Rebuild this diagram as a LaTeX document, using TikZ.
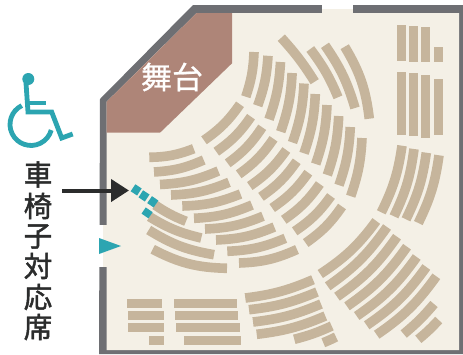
\documentclass[tikz,border=0pt]{standalone}
\usepackage{fontspec}
\newfontfamily\jpfont{Noto Sans CJK JP}[FakeBold=0.7]
\newfontfamily\jpmedium{Noto Sans CJK JP}[FakeBold=1.6]
\usetikzlibrary{arrows.meta}
\definecolor{wallc}{HTML}{6E6F73}
\definecolor{floorc}{HTML}{F4F0E6}
\definecolor{seatc}{HTML}{C6B59C}
\definecolor{stagec}{HTML}{AE8578}
\definecolor{tealc}{HTML}{2CA5B1}
\definecolor{inkc}{HTML}{2B2C2C}
\tikzset{
  seatline/.style={draw=seatc,line width=9.6pt,line cap=butt},
  seatfill/.style={fill=seatc,draw=none},
  tealline/.style={draw=tealc,line width=4.8pt,line cap=butt,line join=miter},
  tealsq/.style={draw=tealc,line width=8.4pt,line cap=butt},
  vlabel/.style={font=\jpmedium\fontsize{28.5}{28.5}\selectfont,text=inkc,inner sep=0pt},
}
\newcommand\seatR[5]{\draw[seatline] (#1,#2) to[bend right=#5] (#3,#4);}
\newcommand\seatL[5]{\draw[seatline] (#1,#2) to[bend left=#5] (#3,#4);}
\newcommand\blk[4]{\fill[seatfill] (#1,#3) rectangle (#2,#4);}
\begin{document}
\begin{tikzpicture}[x=1pt,y=-1pt]
\useasboundingbox (0,0) rectangle (463,354);
\clip (0,0) rectangle (463,354);
\fill[white] (0,0) rectangle (463,354);
% walls and floor
\fill[wallc] (100,99) -- (193,5) -- (463,5) -- (463,354) -- (99,354) -- cycle;
\fill[floorc] (106.7,101.7) -- (196.7,13) -- (459,13) -- (459,350) -- (106.5,350) -- cycle;
\fill[white] (322,4) rectangle (353,8.5);
\fill[floorc] (322,8.5) rectangle (353,13.5);
\fill[white] (98,225) rectangle (103,266.5);
\fill[floorc] (103,225) rectangle (107,266.5);
% stage
\fill[stagec] (106.7,101.7) -- (196.7,13) -- (232,13) -- (232,63.3) -- (160,132.7) -- (106.7,132.7) -- cycle;
\node[font=\jpfont\fontsize{31}{31}\selectfont,text=white,inner sep=0pt] (stage) at (172,77) {舞台};
% fan A
\seatR{149.3}{157.3}{193.7}{148.7}{10}
\seatR{154}{172}{203.7}{160}{10}
\seatR{160}{184.5}{218.3}{171}{10}
\seatR{171}{195}{229}{182.3}{10}
\seatR{182.3}{206}{240.5}{194}{10}
\seatR{194}{218.3}{252}{205}{10}
\seatR{205}{229}{263}{216.2}{10}
\seatR{216}{240}{274.3}{227}{10}
\seatR{227.3}{251.3}{285.3}{238.3}{10}
\seatR{239}{263}{297}{249.5}{11}
% fan B
\seatR{155}{205}{186}{221.3}{6}
\seatR{149.5}{216.7}{201.3}{238}{9}
\seatR{148.7}{230}{214}{254.7}{11}
\seatR{152.7}{249.3}{227}{268.3}{13}
% fan C
\seatR{204}{140.3}{240}{104.3}{10}
\seatR{216.3}{151.7}{251}{116.7}{10}
\seatR{227.7}{163.3}{262.2}{127.3}{10}
\seatR{238.7}{174.3}{273.5}{138.8}{10}
\seatR{249.8}{186}{286.3}{150}{10}
\seatR{261}{196.8}{296.7}{161.3}{10}
\seatR{272.2}{208}{308.3}{172.7}{10}
\seatR{283.8}{219.8}{319.8}{184}{10}
\seatR{294.7}{231.3}{331}{196}{10}
\seatR{305.7}{243}{342}{206.5}{10}
% fan D
\seatR{245.8}{96.7}{254}{52}{8}
\seatR{257.7}{105.7}{268}{55.8}{8}
\seatR{269}{119.3}{280.5}{62}{8}
\seatR{280.7}{131.7}{292.1}{73}{8}
\seatR{292.5}{142.5}{304}{83.5}{8}
\seatR{304}{153.3}{315.3}{94}{8}
\seatR{315.7}{164}{327}{105}{8}
\seatR{327.3}{175}{338.7}{116}{8}
\seatR{339}{185.2}{350.3}{127}{8}
\seatR{350.7}{196.2}{362}{138}{8}
% group E
\seatL{281.3}{37.7}{314.7}{81.7}{5}
\seatL{310.3}{49}{338}{97.3}{7}
\seatL{325}{45.3}{355}{108}{9}
\seatL{344.7}{46.7}{369.3}{118.7}{12}
% top-right blocks
\blk{397}{406}{25}{61}
\blk{409}{418}{26}{62}
\blk{421}{430}{27}{62}
\blk{434}{443}{47}{62}
\blk{397}{406}{72}{135}
\blk{409}{418}{73}{136}
\blk{421}{430}{75}{138}
\blk{434}{443}{79}{135}
% group G
\seatR{381.3}{212.3}{402}{145.7}{9}
\seatR{394}{216.3}{414}{149}{9}
\seatR{406}{219.3}{426.3}{152.7}{9}
\seatR{418.3}{223}{439}{155.3}{9}
% group H
\seatR{320.3}{274}{376.3}{221}{10}
\seatR{327.7}{286.3}{387}{227}{10}
\seatR{337}{296.7}{397}{236.7}{10}
\seatR{347}{306.3}{407}{246.7}{10}
\seatR{356.7}{316}{416.7}{257}{10}
\seatR{366.7}{325.3}{426.3}{267}{10}
\seatR{376.7}{334.7}{436.3}{276.3}{10}
\seatR{403.7}{334}{434}{304}{5}
\seatR{418.3}{339.3}{438.7}{320}{4}
% group I
\seatR{245.3}{298}{313}{279.7}{8}
\seatR{249}{309.7}{317}{292}{8}
\seatR{253}{322}{321}{304}{8}
\seatR{256.7}{334.3}{325.3}{316}{8}
\seatR{294.3}{339.3}{331.7}{326}{5}
\seatR{323.3}{342.7}{336}{337}{2}
% bottom-left blocks
\blk{127}{162}{299}{308}
\blk{128}{164}{311}{320}
\blk{128}{164}{323}{332}
\blk{149}{164}{336}{345}
\blk{174}{237}{299}{308}
\blk{175}{238}{311}{320}
\blk{176}{240}{323}{332}
\blk{184}{241}{336}{345}
% teal seats
\draw[tealsq] (133,187.8) -- (139.4,192);
\draw[tealsq] (140.8,193.8) -- (147.2,198);
\draw[tealsq] (149.6,199.6) -- (156,204);
\draw[tealsq] (149.2,209.8) -- (145,216);
% entrance marker
\fill[tealc] (99,238) -- (121,246) -- (99,254) -- cycle;
% wheelchair icon
\fill[tealc] (28.3,79) circle (6);
\draw[tealline] (26,83) -- (28,112) -- (51.7,112) -- (61.7,138) -- (72.7,134);
\draw[tealline] (28,103) -- (45.7,103);
\draw[tealline] (21.8,105.6) arc[start angle=116,end angle=344.5,radius=21pt];
% label and arrow
\node[vlabel] (c1) at (38,174.5) {車};
\node[vlabel] (c2) at (38,206) {椅};
\node[vlabel] (c3) at (38,236.5) {子};
\node[vlabel] (c4) at (38,266) {対};
\node[vlabel] (c5) at (38,297) {応};
\node[vlabel] (c6) at (38,327) {席};
\coordinate (arrowstart) at (62,190.5);
\coordinate (arrowend) at (129,190.5);
\draw[inkc,line width=4pt,-{Triangle[length=18pt,width=22pt]}] (arrowstart) -- (arrowend);
\end{tikzpicture}
\end{document}
